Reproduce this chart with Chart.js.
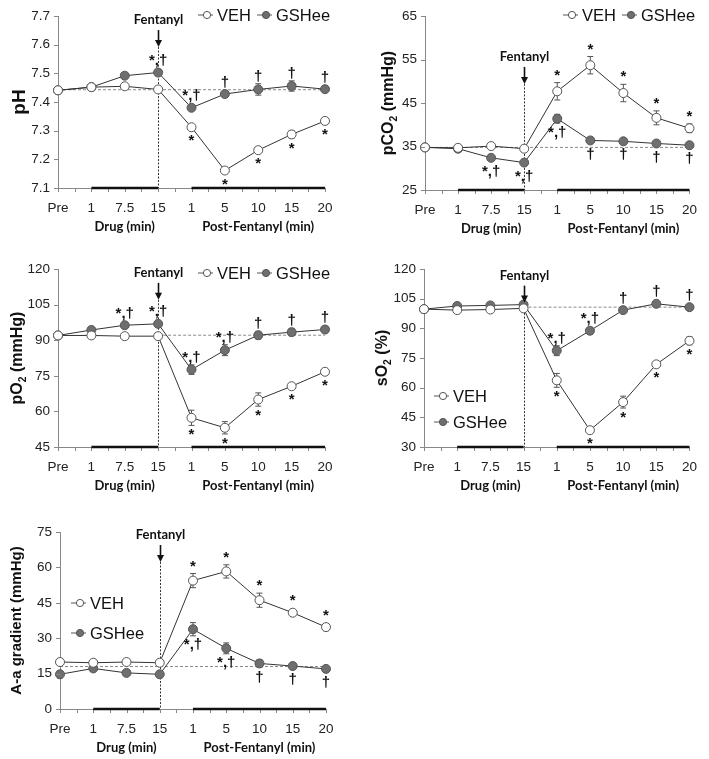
<!DOCTYPE html>
<html>
<head>
<meta charset="utf-8">
<script src="https://cdn.jsdelivr.net/npm/chart.js@4.4.1/dist/chart.umd.min.js"></script>
<style>
  body { margin: 0; background: #fff; width: 709px; height: 759px; position: relative; overflow: hidden; }
  canvas { position: absolute; }
</style>
</head>
<body>
<canvas id="ph" width="350" height="245" style="left:0;top:0"></canvas>
<canvas id="pco2" width="359" height="245" style="left:350px;top:0"></canvas>
<canvas id="po2" width="350" height="252" style="left:0;top:245px"></canvas>
<canvas id="so2" width="359" height="252" style="left:350px;top:245px"></canvas>
<canvas id="aa" width="350" height="269" style="left:0;top:490px"></canvas>
<script>
// time points: Pre, drug 1/7.5/15 min, post-fentanyl 1/5/10/15/20 min
const categories = ['Pre', '1', '7.5', '15', '1', '5', '10', '15', '20'];

const phVeh = [7.441, 7.452, 7.455, 7.444, 7.312, 7.161, 7.232, 7.287, 7.334];
const phVehErr = [0.004, 0.004, 0.006, 0.005, 0.007, 0.004, 0.007, 0.013, 0.004];
const phGsh = [7.441, 7.452, 7.492, 7.503, 7.380, 7.428, 7.444, 7.456, 7.445];
const phGshErr = [0.004, 0.006, 0.010, 0.010, 0.005, 0.004, 0.020, 0.018, 0.005];

const pco2Veh = [34.8, 34.7, 35.1, 34.5, 47.7, 53.7, 47.3, 41.6, 39.2];
const pco2VehErr = [0.3, 0.3, 0.3, 0.3, 2.0, 2.0, 2.0, 1.6, 1.0];
const pco2Gsh = [34.8, 34.5, 32.4, 31.3, 41.4, 36.4, 36.2, 35.7, 35.3];
const pco2GshErr = [0.3, 0.4, 0.4, 0.4, 1.0, 0.4, 0.4, 0.4, 0.4];

const po2Veh = [92.0, 92.0, 91.7, 91.7, 57.3, 53.1, 65.0, 70.6, 76.7];
const po2VehErr = [0.5, 0.5, 0.5, 0.5, 3.2, 2.6, 2.8, 1.0, 1.3];
const po2Gsh = [92.0, 94.3, 96.3, 96.9, 77.6, 85.8, 92.1, 93.4, 94.5];
const po2GshErr = [0.6, 0.6, 0.6, 0.6, 2.0, 2.3, 1.6, 1.5, 1.0];

const so2Veh = [99.7, 99.2, 99.5, 100.1, 63.7, 38.5, 52.7, 71.8, 83.7];
const so2VehErr = [0.4, 0.4, 0.4, 0.4, 3.5, 1.2, 3.0, 1.0, 2.0];
const so2Gsh = [99.7, 101.3, 101.6, 102.0, 78.7, 88.8, 99.2, 102.4, 100.7];
const so2GshErr = [0.4, 0.5, 0.5, 0.5, 2.5, 1.5, 0.8, 1.0, 0.8];

const aaVeh = [19.9, 19.6, 19.9, 19.6, 54.4, 58.3, 46.1, 40.8, 34.7];
const aaVehErr = [1.5, 1.2, 1.2, 1.2, 3.0, 2.8, 3.0, 1.0, 1.5];
const aaGsh = [14.7, 17.2, 15.3, 14.7, 33.8, 25.7, 19.3, 18.2, 17.0];
const aaGshErr = [1.5, 1.2, 1.2, 1.2, 2.8, 2.3, 1.6, 1.2, 0.8];

// significance marks: [time index, series, side, text]
const phMarks = [[3, 'gsh', 'above', '*,†'], [4, 'gsh', 'above', '*,†'], [4, 'veh', 'below', '*'],
  [5, 'gsh', 'above', '†'], [5, 'veh', 'below', '*'], [6, 'gsh', 'above', '†'], [6, 'veh', 'below', '*'],
  [7, 'gsh', 'above', '†'], [7, 'veh', 'below', '*'], [8, 'gsh', 'above', '†'], [8, 'veh', 'below', '*']];
const pco2Marks = [[2, 'gsh', 'below', '*,†'], [3, 'gsh', 'below', '*,†'], [4, 'veh', 'above', '*'], [4, 'gsh', 'below', '*,†'],
  [5, 'veh', 'above', '*'], [5, 'gsh', 'below', '†'], [6, 'veh', 'above', '*'], [6, 'gsh', 'below', '†'],
  [7, 'veh', 'above', '*'], [7, 'gsh', 'below', '†'], [8, 'veh', 'above', '*'], [8, 'gsh', 'below', '†']];
const po2Marks = [[2, 'gsh', 'above', '*,†'], [3, 'gsh', 'above', '*,†'], [4, 'gsh', 'above', '*,†'], [4, 'veh', 'below', '*'],
  [5, 'gsh', 'above', '*,†'], [5, 'veh', 'below', '*'], [6, 'gsh', 'above', '†'], [6, 'veh', 'below', '*'],
  [7, 'gsh', 'above', '†'], [7, 'veh', 'below', '*'], [8, 'gsh', 'above', '†'], [8, 'veh', 'below', '*']];
const so2Marks = [[4, 'gsh', 'above', '*,†'], [4, 'veh', 'below', '*'], [5, 'gsh', 'above', '*,†'], [5, 'veh', 'below', '*'],
  [6, 'gsh', 'above', '†'], [6, 'veh', 'below', '*'], [7, 'gsh', 'above', '†'], [7, 'veh', 'below', '*'],
  [8, 'gsh', 'above', '†'], [8, 'veh', 'below', '*']];
const aaMarks = [[4, 'veh', 'above', '*'], [4, 'gsh', 'below', '*,†'], [5, 'veh', 'above', '*'], [5, 'gsh', 'below', '*,†'],
  [6, 'veh', 'above', '*'], [6, 'gsh', 'below', '†'], [7, 'veh', 'above', '*'], [7, 'gsh', 'below', '†'],
  [8, 'veh', 'above', '*'], [8, 'gsh', 'below', '†']];

// baseline reference (dashed) levels
const phBase = 7.443, pco2Base = 34.8, po2Base = 92.1, so2Base = 100.7, aaBase = 18.0;

const FONT = "'Liberation Sans', Arial, sans-serif";
const BOLDF = "Lato, 'Liberation Sans', sans-serif";

function drawTitle(ctx, parts, cx, cy, size) {
  ctx.save();
  ctx.translate(cx, cy);
  ctx.rotate(-Math.PI / 2);
  ctx.fillStyle = '#111';
  ctx.textBaseline = 'middle';
  ctx.textAlign = 'left';
  let total = 0;
  parts.forEach(pt => {
    ctx.font = 'bold ' + (pt.sub ? size * 0.65 : size) + 'px ' + FONT;
    total += ctx.measureText(pt.t).width;
  });
  let x = -total / 2;
  parts.forEach(pt => {
    ctx.font = 'bold ' + (pt.sub ? size * 0.65 : size) + 'px ' + FONT;
    ctx.fillText(pt.t, x, pt.sub ? size * 0.3 : 0);
    x += ctx.measureText(pt.t).width;
  });
  ctx.restore();
}

function legendItem(ctx, x, y, fill, text) {
  ctx.strokeStyle = '#555';
  ctx.lineWidth = 1;
  ctx.beginPath(); ctx.moveTo(x - 9, y); ctx.lineTo(x + 6, y); ctx.stroke();
  ctx.beginPath(); ctx.arc(x, y, 3.6, 0, Math.PI * 2);
  ctx.fillStyle = fill; ctx.fill(); ctx.stroke();
  ctx.fillStyle = '#111';
  ctx.font = '16.5px ' + FONT;
  ctx.textAlign = 'left';
  ctx.textBaseline = 'middle';
  ctx.fillText(text, x + 10, y + 1);
}

function makePanel(p) {
  const el = document.getElementById(p.id);
  const W = el.width, H = el.height;
  const [aL, aT, aR, aB] = p.area;

  const overlay = {
    id: 'overlay',
    beforeDatasetsDraw(chart) {
      const { ctx } = chart;
      const x = chart.scales.x, y = chart.scales.y;
      ctx.save();
      // fentanyl injection line
      const fx = Math.round(x.getPixelForValue(3)) + 0.5;
      ctx.strokeStyle = '#333';
      ctx.lineWidth = 1;
      ctx.setLineDash([2, 1.5]);
      ctx.beginPath();
      ctx.moveTo(fx, y.getPixelForValue(p.arrowTip));
      ctx.lineTo(fx, y.bottom);
      ctx.stroke();
      ctx.setLineDash([]);
      // error bars
      ctx.strokeStyle = '#555';
      [[p.veh, p.vehErr], [p.gsh, p.gshErr]].forEach(([vals, errs]) => {
        vals.forEach((v, i) => {
          const px = x.getPixelForValue(i);
          const t = y.getPixelForValue(v + errs[i]);
          const b = y.getPixelForValue(v - errs[i]);
          ctx.beginPath();
          ctx.moveTo(px, t); ctx.lineTo(px, b);
          ctx.moveTo(px - 3, t); ctx.lineTo(px + 3, t);
          ctx.moveTo(px - 3, b); ctx.lineTo(px + 3, b);
          ctx.stroke();
        });
      });
      ctx.restore();
    },
    afterDraw(chart) {
      const { ctx } = chart;
      const x = chart.scales.x, y = chart.scales.y;
      ctx.save();
      // axis tick marks
      ctx.strokeStyle = '#888';
      ctx.lineWidth = 1;
      ctx.beginPath();
      for (let k = 0; k <= 16; k++) {
        const px = Math.round(x.getPixelForValue(k / 2)) + 0.5;
        ctx.moveTo(px, y.bottom); ctx.lineTo(px, y.bottom + 4);
      }
      y.ticks.forEach(t => {
        const py = Math.round(y.getPixelForValue(t.value)) + 0.5;
        ctx.moveTo(x.left - 4, py); ctx.lineTo(x.left, py);
      });
      ctx.stroke();
      // thick bars marking drug and post-fentanyl periods
      ctx.strokeStyle = '#111';
      ctx.lineWidth = 2.5;
      ctx.beginPath();
      ctx.moveTo(x.getPixelForValue(1), y.bottom); ctx.lineTo(x.getPixelForValue(3), y.bottom);
      ctx.moveTo(x.getPixelForValue(4), y.bottom); ctx.lineTo(x.getPixelForValue(8), y.bottom);
      ctx.stroke();
      // arrow + label
      const fx = Math.round(x.getPixelForValue(3)) + 0.5;
      const tip = y.getPixelForValue(p.arrowTip);
      ctx.lineWidth = 1.6;
      ctx.beginPath(); ctx.moveTo(fx, tip - 17); ctx.lineTo(fx, tip - 5); ctx.stroke();
      ctx.fillStyle = '#111';
      ctx.beginPath(); ctx.moveTo(fx - 3.5, tip - 7); ctx.lineTo(fx + 3.5, tip - 7); ctx.lineTo(fx, tip); ctx.closePath(); ctx.fill();
      ctx.font = 'bold 13px ' + BOLDF;
      ctx.textAlign = 'center';
      ctx.textBaseline = 'middle';
      ctx.fillText('Fentanyl', fx, tip - 27);
      // group labels under the axis
      ctx.font = 'bold 13px ' + BOLDF;
      ctx.fillText('Drug (min)', x.getPixelForValue(2), y.bottom + 39);
      ctx.fillText('Post-Fentanyl (min)', x.getPixelForValue(6), y.bottom + 39);
      // significance marks
      ctx.font = 'bold 15px ' + FONT;
      p.marks.forEach(([i, s, side, txt]) => {
        const vals = s === 'veh' ? p.veh : p.gsh;
        const errs = s === 'veh' ? p.vehErr : p.gshErr;
        const px = x.getPixelForValue(i);
        if (side === 'above') {
          ctx.textBaseline = 'alphabetic';
          ctx.fillText(txt, px, Math.min(y.getPixelForValue(vals[i] + errs[i]), y.getPixelForValue(vals[i]) - 4.5) - 3);
        } else {
          ctx.textBaseline = 'top';
          ctx.fillText(txt, px, Math.max(y.getPixelForValue(vals[i] - errs[i]), y.getPixelForValue(vals[i]) + 4.5) + 2);
        }
      });
      // legend
      const lg = p.legend;
      if (lg.row) {
        legendItem(ctx, lg.x, lg.y, '#fff', 'VEH');
        legendItem(ctx, lg.x + 59, lg.y, '#6f6f6f', 'GSHee');
      } else {
        legendItem(ctx, lg.x, lg.y, '#fff', 'VEH');
        legendItem(ctx, lg.x, lg.y + lg.dy, '#6f6f6f', 'GSHee');
      }
      // y axis title
      drawTitle(ctx, p.title, p.titleX, (y.top + y.bottom) / 2, p.titleSize);
      ctx.restore();
    }
  };

  const baseData = categories.map((c, i) => (i >= p.baseFrom ? p.base : null));

  return new Chart(el, {
    type: 'line',
    data: {
      labels: categories,
      datasets: [
        {
          label: 'VEH', data: p.veh,
          borderColor: '#333', borderWidth: 1,
          pointRadius: 4.5, pointBackgroundColor: '#fff', pointBorderColor: '#555', pointBorderWidth: 1,
          tension: 0
        },
        {
          label: 'GSHee', data: p.gsh,
          borderColor: '#333', borderWidth: 1,
          pointRadius: 4.5, pointBackgroundColor: '#6f6f6f', pointBorderColor: '#555', pointBorderWidth: 1,
          tension: 0
        },
        {
          label: 'baseline', data: baseData,
          borderColor: '#8a8a8a', borderWidth: 1, borderDash: [3, 2],
          pointRadius: 0, spanGaps: false
        }
      ]
    },
    options: {
      responsive: false,
      animation: false,
      layout: { padding: { left: 0, top: aT, right: W - aR, bottom: 0 } },
      plugins: { legend: { display: false }, tooltip: { enabled: false } },
      scales: {
        x: {
          offset: false,
          grid: { display: false, drawTicks: false },
          border: { display: true, color: '#888', width: 1 },
          ticks: { color: '#222', font: { family: FONT, size: 13.5 }, padding: 12, maxRotation: 0, autoSkip: false },
          afterFit(scale) { scale.height = H - aB; }
        },
        y: {
          min: p.min, max: p.max,
          grid: { display: false, drawTicks: false },
          border: { display: true, color: '#888', width: 1 },
          ticks: {
            stepSize: p.step, color: '#222', font: { family: FONT, size: 13.5 }, padding: 8,
            callback: v => p.fmt ? v.toFixed(p.fmt) : v
          },
          afterFit(scale) { scale.width = aL; }
        }
      }
    },
    plugins: [overlay]
  });
}

makePanel({
  id: 'ph', area: [58, 10, 325, 188], min: 7.1, max: 7.7, step: 0.1, fmt: 1,
  veh: phVeh, vehErr: phVehErr, gsh: phGsh, gshErr: phGshErr, marks: phMarks,
  base: phBase, baseFrom: 0, arrowTip: 7.592,
  legend: { row: true, x: 207, y: 15 },
  title: [{ t: 'pH' }], titleX: 20, titleSize: 19
});
makePanel({
  id: 'pco2', area: [75, 10, 343, 190], min: 25, max: 65, step: 10,
  veh: pco2Veh, vehErr: pco2VehErr, gsh: pco2Gsh, gshErr: pco2GshErr, marks: pco2Marks,
  base: pco2Base, baseFrom: 0, arrowTip: 49.4,
  legend: { row: true, x: 222, y: 15 },
  title: [{ t: 'pCO' }, { t: '2', sub: true }, { t: ' (mmHg)' }], titleX: 39, titleSize: 16
});
makePanel({
  id: 'po2', area: [58, 24, 325, 202], min: 45, max: 120, step: 15,
  veh: po2Veh, vehErr: po2VehErr, gsh: po2Gsh, gshErr: po2GshErr, marks: po2Marks,
  base: po2Base, baseFrom: 3, arrowTip: 107,
  legend: { row: true, x: 207, y: 28 },
  title: [{ t: 'pO' }, { t: '2', sub: true }, { t: ' (mmHg)' }], titleX: 18, titleSize: 16
});
makePanel({
  id: 'so2', area: [74, 24, 341, 202], min: 30, max: 120, step: 15,
  veh: so2Veh, vehErr: so2VehErr, gsh: so2Gsh, gshErr: so2GshErr, marks: so2Marks,
  base: so2Base, baseFrom: 3, arrowTip: 103,
  legend: { row: false, x: 93, y: 151, dy: 26 },
  title: [{ t: 'sO' }, { t: '2', sub: true }, { t: ' (%)' }], titleX: 33, titleSize: 16
});
makePanel({
  id: 'aa', area: [60, 42, 326, 219], min: 0, max: 75, step: 15,
  veh: aaVeh, vehErr: aaVehErr, gsh: aaGsh, gshErr: aaGshErr, marks: aaMarks,
  base: aaBase, baseFrom: 0, arrowTip: 62.3,
  legend: { row: false, x: 80, y: 113, dy: 30 },
  title: [{ t: 'A-a gradient (mmHg)' }], titleX: 17, titleSize: 15
});
</script>
</body>
</html>
